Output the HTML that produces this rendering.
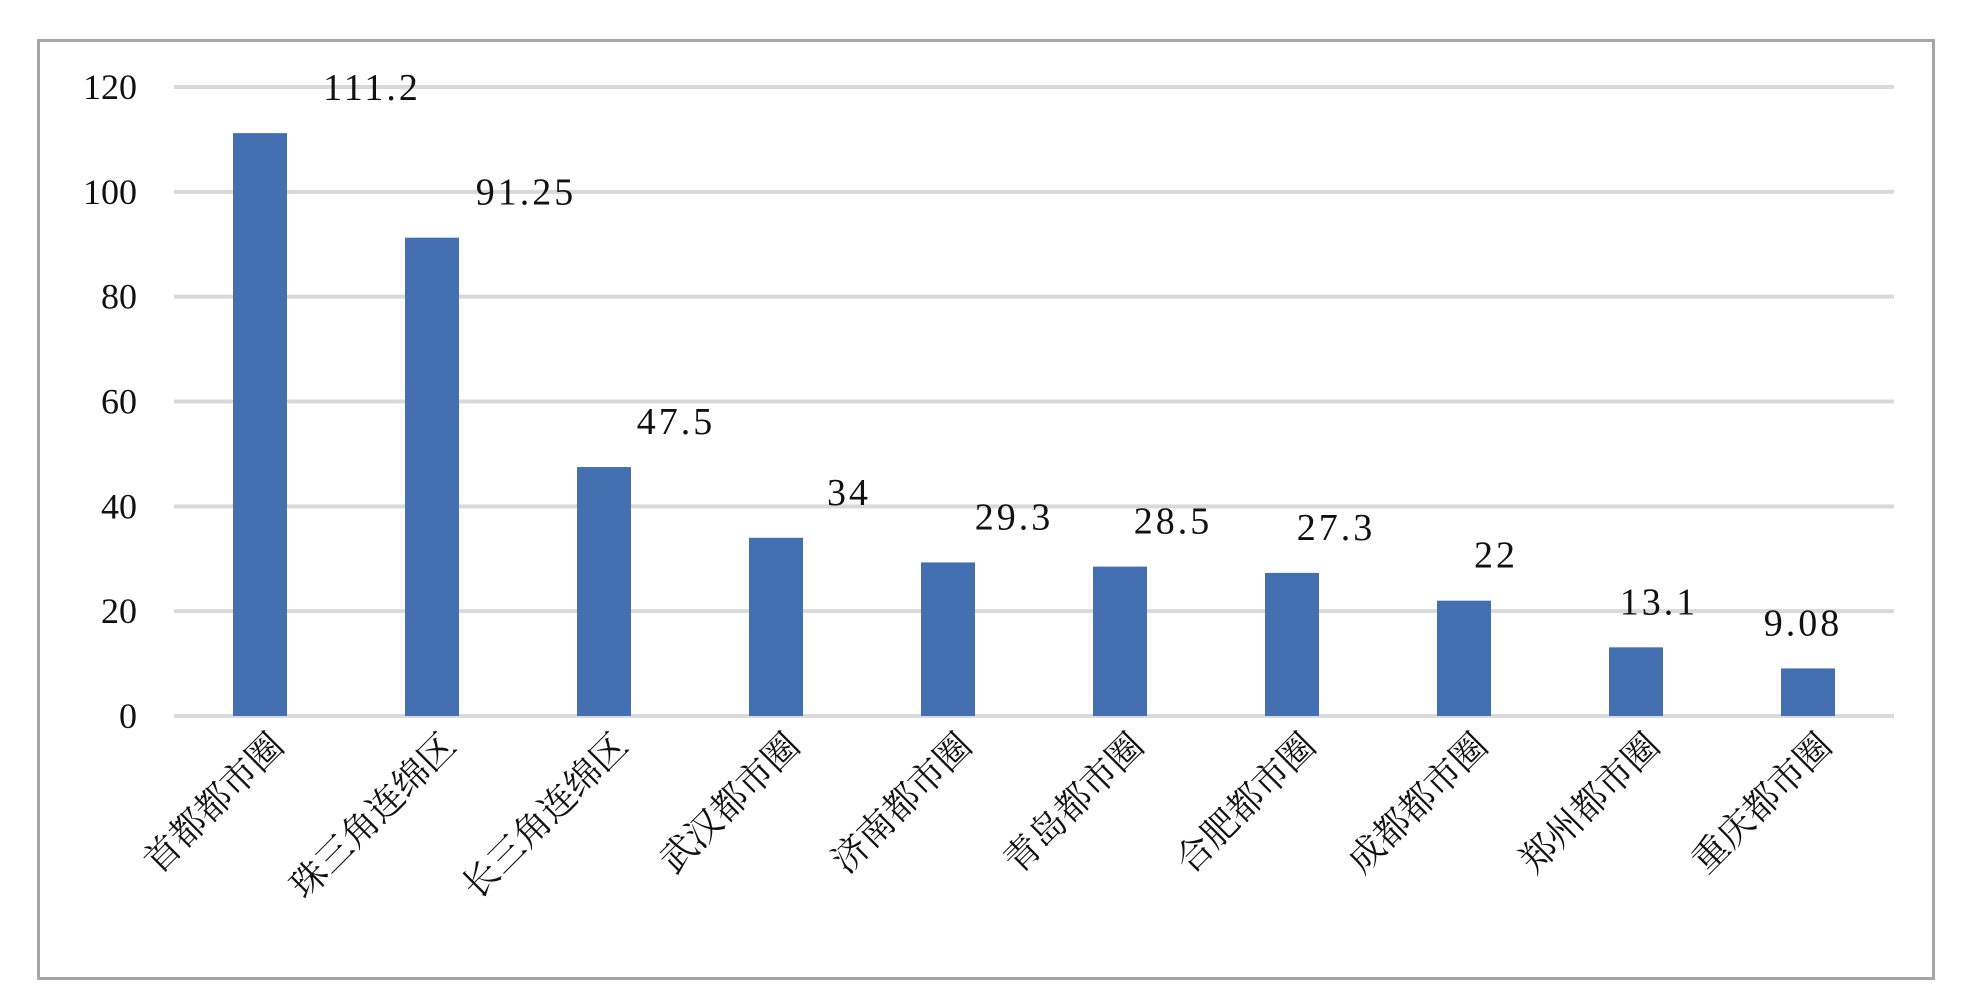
<!DOCTYPE html>
<html><head><meta charset="utf-8"><style>
html,body{margin:0;padding:0;background:#fff;}
svg{display:block;}
text{fill:#111;}
</style></head><body>
<svg id="chart" width="1966" height="998" viewBox="0 0 1966 998" xmlns="http://www.w3.org/2000/svg">
<rect x="38.5" y="40.5" width="1895" height="938" fill="#fff" stroke="#a6a6a6" stroke-width="3"/>
<g id="grid"></g>
<g id="yticks"></g>
<g id="bars"></g>
<g id="labels"></g>
<g id="xlabels"></g>
</svg>
<script>
const categories = ["首都都市圈","珠三角连绵区","长三角连绵区","武汉都市圈","济南都市圈","青岛都市圈","合肥都市圈","成都都市圈","郑州都市圈","重庆都市圈"];
const values = [111.2, 91.25, 47.5, 34, 29.3, 28.5, 27.3, 22, 13.1, 9.08];
const valueLabels = ["111.2","91.25","47.5","34","29.3","28.5","27.3","22","13.1","9.08"];
const yTicks = [0,20,40,60,80,100,120];
const labelDx = [112, 94, 72, 73, 66, 53, 44, 32, 23, -5];

const NS = "http://www.w3.org/2000/svg";
const X0 = 174, X1 = 1894, Y0 = 716, Y120 = 87;
const yMax = 120;
const y = v => Y0 - (v / yMax) * (Y0 - Y120);
const band = (X1 - X0) / categories.length;
const xc = i => X0 + band * (i + 0.5);
const barW = 54;
function mk(tag, attrs, parent){const e=document.createElementNS(NS,tag);for(const k in attrs)e.setAttribute(k,attrs[k]);parent.appendChild(e);return e;}
const grid=document.getElementById('grid'), yt=document.getElementById('yticks'), bars=document.getElementById('bars'), labels=document.getElementById('labels'), xl=document.getElementById('xlabels');
yTicks.forEach(t=>{
  const l=mk('line',{x1:X0,x2:X1,y1:y(t),y2:y(t),stroke:'#d9d9d9','stroke-width':4},grid);
  
  
  const tx=mk('text',{x:137,y:y(t)+12,'text-anchor':'end','font-family':'"Liberation Serif","Noto Serif CJK SC",serif','font-size':36},yt);
  tx.textContent=t;
  
  
});
values.forEach((v,i)=>{
  const r=mk('rect',{x:xc(i)-barW/2,y:y(v),width:barW,height:Y0-y(v),fill:'#446fb1'},bars);
  
  
  const t=mk('text',{x:xc(i)+labelDx[i],y:y(v)-33,'text-anchor':'middle','font-family':'"Liberation Serif","Noto Serif CJK SC",serif','font-size':38,'letter-spacing':'3'},labels);
  t.textContent=valueLabels[i];
  
  
  const c=mk('text',{x:0,y:0,'text-anchor':'end','font-family':'"Liberation Serif","Noto Serif CJK SC",serif','font-size':36,transform:`translate(${xc(i)+26},${Y0+32}) rotate(-45)`},xl);
  c.textContent=categories[i];
  
  
});
</script>
</body></html>
